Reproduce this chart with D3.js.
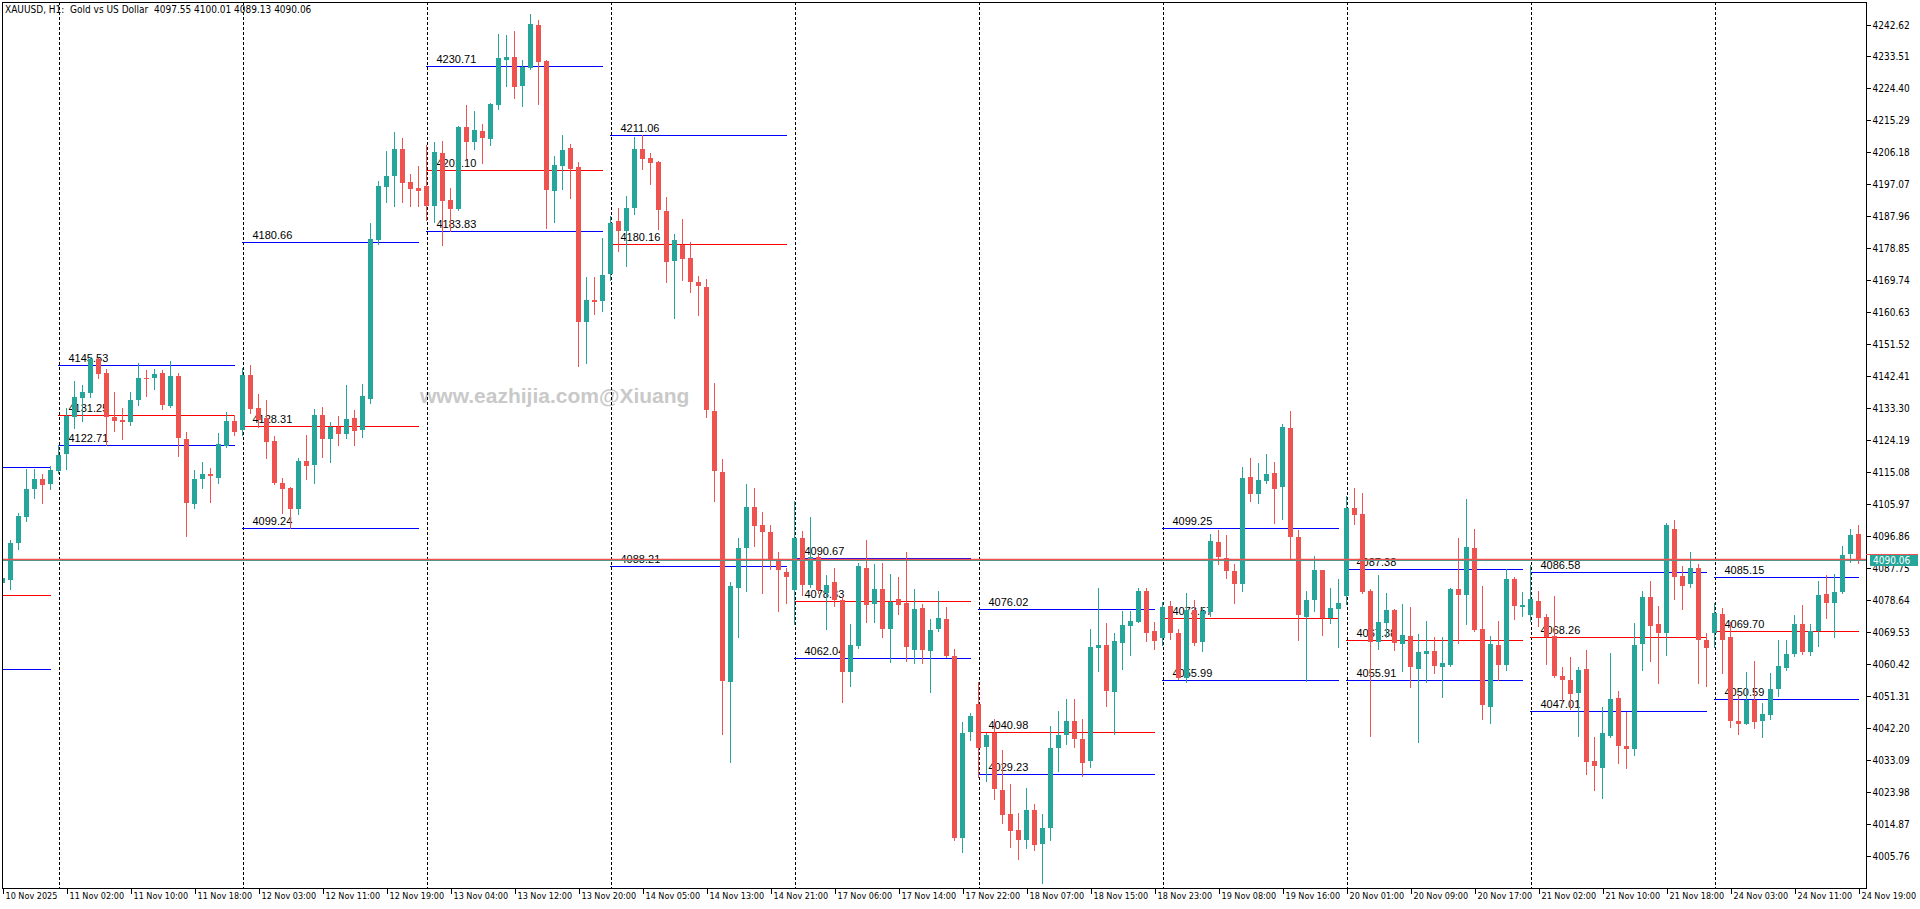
<!DOCTYPE html>
<html><head><meta charset="utf-8">
<script src="https://cdn.jsdelivr.net/npm/d3@7"></script>
<style>html,body{margin:0;padding:0;background:#fff;overflow:hidden}</style>
</head><body><svg id="c" width="1920" height="909"></svg>
<script>
// ---- DATA ----
const headerText = "XAUUSD, H1:  Gold vs US Dollar  4097.55 4100.01 4089.13 4090.06";
const watermark = "www.eazhijia.com@Xiuang";
const currentPrice = 4090.06;
// bar 0 = 10 Nov 2025 17:00, H1 bars
const openP = [4083.5,4084.5,4095.0,4102.4,4110.4,4113.1,4111.8,4115.5,4120.2,4130.9,4136.2,4137.7,4147.2,4143.4,4130.7,4129.9,4129.5,4135.7,4141.9,4142.0,4143.3,4133.9,4142.5,4124.5,4106.1,4113.0,4114.5,4113.5,4122.5,4129.6,
4127.2,4142.8,4133.4,4130.4,4123.9,4112.0,4110.7,4104.6,4118.2,4117.1,4131.4,4124.6,4127.9,4126.0,4130.5,4127.1,4136.0,4181.2,4196.4,4199.5,4207.1,4197.7,4196.0,4196.6,4191.0,4206.0,4192.6,4190.1,4213.5,4209.2,
4212.3,4210.1,4219.8,4232.6,4233.4,4225.2,4230.3,4242.5,4232.2,4195.3,4202.4,4207.4,4202.1,4157.9,4164.1,4163.9,4171.5,4186.7,4183.8,4190.2,4207.1,4204.5,4203.5,4189.6,4175.3,4179.9,4176.0,4169.2,4167.8,4132.5,
4115.1,4055.3,4082.2,4093.6,4105.2,4100.1,4098.1,4090.0,4086.5,4081.4,4096.4,4082.8,4091.0,4080.8,4083.9,4078.7,4058.1,4065.5,4087.9,4077.6,4081.9,4070.5,4079.0,4077.7,4064.5,4076.3,4064.1,4070.5,4073.3,4062.7,
4011.0,4041.1,4049.0,4036.8,4040.8,4024.5,4017.6,4013.1,4010.2,4018.8,4009.1,4013.8,4036.6,4040.2,4044.2,4039.0,4032.7,4065.1,4065.8,4052.4,4066.5,4071.3,4072.5,4081.2,4069.8,4067.9,4076.9,4069.3,4056.5,4075.8,
4066.8,4075.3,4095.3,4090.5,4086.9,4083.1,4113.6,4108.8,4112.6,4114.9,4110.9,4127.6,4096.6,4073.9,4078.8,4087.2,4073.4,4076.1,4079.9,4104.9,4103.2,4081.3,4066.8,4072.2,4075.8,4066.1,4068.4,4059.1,4063.4,4064.2,
4059.6,4060.1,4081.8,4080.2,4093.6,4070.4,4048.2,4065.8,4060.1,4084.6,4076.7,4074.5,4078.3,4073.9,4068.4,4057.0,4055.8,4052.2,4059.0,4032.8,4030.9,4040.0,4050.7,4037.1,4036.2,4066.1,4079.5,4071.8,4069.3,4098.9,
4085.5,4083.2,4087.7,4067.2,4069.3,4074.8,4068.0,4044.2,4043.3,4050.2,4044.2,4045.9,4053.2,4059.3,4063.2,4071.7,4063.8,4069.9,4080.5,4077.9,4081.0,4091.8,4097.55];
const highP = [4086.0,4095.7,4103.5,4116.0,4116.0,4114.5,4116.8,4122.8,4133.5,4141.0,4139.8,4148.0,4147.7,4144.5,4137.9,4133.5,4137.9,4146.2,4144.2,4144.5,4144.2,4146.7,4143.3,4126.5,4115.7,4118.0,4116.2,4126.2,4132.2,4131.3,
4144.8,4145.6,4137.3,4135.6,4125.4,4113.5,4110.9,4119.1,4125.7,4133.1,4133.6,4129.4,4131.1,4139.9,4132.8,4140.2,4186.1,4198.0,4206.6,4212.0,4210.3,4200.1,4202.4,4208.3,4209.1,4209.4,4196.0,4213.8,4219.7,4218.1,
4214.4,4220.3,4240.0,4239.6,4240.8,4232.5,4245.6,4243.9,4232.5,4205.1,4211.1,4208.6,4203.4,4170.7,4170.7,4181.8,4188.2,4190.4,4193.7,4210.5,4211.2,4206.0,4203.8,4193.5,4182.8,4187.2,4180.7,4170.9,4170.2,4140.5,
4118.8,4083.8,4096.4,4111.6,4110.6,4103.8,4100.1,4092.4,4087.9,4107.0,4098.4,4102.4,4091.4,4085.8,4087.9,4079.4,4071.9,4089.3,4095.7,4088.9,4089.3,4086.1,4085.1,4092.2,4081.9,4077.6,4073.3,4081.1,4076.6,4064.8,
4044.0,4046.4,4055.4,4040.8,4044.9,4035.9,4026.2,4018.1,4025.1,4020.5,4017.6,4042.7,4047.0,4050.4,4050.4,4044.9,4070.4,4082.0,4072.2,4069.3,4075.5,4075.6,4082.2,4082.1,4072.3,4078.0,4078.4,4070.3,4080.7,4078.6,
4076.6,4097.4,4098.6,4097.2,4088.9,4116.6,4119.1,4117.8,4120.2,4118.0,4128.8,4132.5,4098.6,4081.2,4091.3,4087.2,4082.2,4084.6,4108.4,4110.6,4109.2,4081.8,4085.8,4080.6,4076.1,4077.5,4076.7,4069.1,4072.7,4068.2,
4068.2,4082.2,4096.4,4107.5,4098.9,4082.7,4068.4,4072.7,4087.4,4085.3,4080.9,4088.6,4081.3,4074.6,4079.9,4059.6,4062.5,4059.6,4064.4,4039.7,4048.2,4063.6,4052.8,4046.8,4072.2,4081.2,4084.0,4076.9,4100.7,4101.4,
4088.3,4092.2,4088.9,4069.3,4077.9,4076.3,4072.3,4051.6,4058.1,4061.3,4049.2,4058.0,4067.4,4067.2,4074.4,4077.2,4071.8,4084.0,4085.9,4086.1,4094.0,4098.9,4100.01];
const lowP = [4082.0,4081.9,4093.3,4101.2,4107.8,4106.4,4110.3,4114.9,4116.1,4127.7,4129.7,4136.6,4142.0,4122.8,4126.9,4124.6,4128.6,4134.3,4136.9,4138.8,4133.1,4133.6,4119.8,4097.0,4105.0,4110.6,4106.7,4112.1,4122.2,4125.7,
4125.6,4131.8,4128.0,4119.0,4111.7,4103.5,4099.2,4103.2,4113.2,4112.1,4119.5,4118.1,4122.8,4124.9,4122.8,4125.2,4134.7,4180.1,4192.1,4191.0,4192.1,4191.0,4191.0,4186.9,4186.4,4179.9,4183.7,4189.9,4204.6,4207.1,
4203.1,4208.3,4218.6,4225.2,4221.8,4219.5,4230.0,4220.1,4184.7,4186.4,4195.8,4193.3,4145.4,4146.3,4160.2,4161.1,4169.7,4178.0,4173.9,4188.5,4201.5,4197.3,4184.3,4169.4,4159.0,4169.9,4166.5,4159.9,4130.8,4107.0,
4040.4,4032.4,4068.1,4081.3,4094.0,4080.8,4087.5,4075.4,4077.7,4071.9,4080.1,4082.5,4080.8,4070.5,4076.9,4049.6,4054.3,4064.9,4072.3,4072.3,4068.1,4061.0,4074.7,4061.3,4060.6,4060.6,4052.5,4069.8,4062.4,4010.4,
4006.9,4038.7,4028.3,4027.1,4022.0,4015.2,4008.3,4004.8,4008.0,4007.4,3998.1,4010.2,4029.9,4037.5,4036.8,4028.5,4031.1,4058.4,4048.5,4040.6,4059.1,4063.0,4072.3,4067.0,4064.7,4065.8,4067.6,4056.3,4055.4,4065.8,
4064.2,4074.1,4088.9,4084.8,4077.9,4081.2,4106.8,4106.4,4112.1,4100.7,4101.7,4090.2,4067.2,4055.6,4075.5,4068.7,4072.2,4065.3,4077.5,4100.3,4080.8,4040.0,4064.8,4068.2,4064.4,4058.5,4053.9,4038.3,4055.4,4058.0,
4051.1,4059.8,4066.5,4071.9,4069.9,4044.7,4043.7,4056.0,4058.7,4073.2,4074.2,4072.7,4071.3,4060.4,4056.6,4049.5,4047.5,4040.0,4029.0,4024.5,4022.3,4039.7,4032.3,4030.9,4034.6,4058.7,4061.3,4055.1,4062.9,4078.9,
4076.1,4082.4,4055.1,4054.1,4065.3,4057.9,4042.5,4040.4,4043.3,4042.1,4039.7,4044.9,4051.3,4058.7,4062.8,4063.4,4062.9,4065.6,4073.6,4068.2,4080.8,4089.6,4089.13];
const closeP = [4085.0,4094.8,4102.6,4110.3,4113.1,4111.4,4115.7,4119.9,4131.2,4136.6,4137.9,4147.4,4143.1,4130.9,4129.7,4129.5,4135.6,4141.9,4141.6,4143.0,4134.2,4142.5,4124.9,4106.4,4113.1,4114.5,4114.1,4123.1,4129.6,4126.4,
4142.8,4133.0,4129.9,4123.8,4111.9,4110.4,4104.6,4118.2,4116.9,4131.4,4124.6,4127.9,4126.0,4130.2,4126.9,4136.8,4181.5,4196.6,4199.4,4207.1,4197.5,4195.8,4195.3,4191.0,4206.3,4192.3,4190.1,4213.5,4209.2,4212.5,
4210.4,4220.1,4233.1,4233.4,4224.9,4230.6,4242.8,4232.0,4195.4,4202.6,4206.9,4201.5,4157.9,4164.1,4163.6,4171.2,4186.1,4183.8,4190.4,4207.1,4204.4,4203.3,4189.9,4175.1,4181.1,4175.9,4169.4,4168.0,4132.7,4115.5,
4055.7,4082.7,4093.6,4105.2,4099.7,4098.1,4090.0,4087.2,4085.1,4096.4,4082.8,4091.0,4081.4,4082.9,4078.7,4058.1,4065.9,4088.3,4077.3,4081.9,4070.5,4078.0,4077.3,4065.2,4076.1,4064.5,4070.2,4073.5,4062.7,4011.0,
4040.9,4045.7,4036.6,4040.2,4024.9,4017.4,4012.9,4010.2,4018.8,4008.8,4013.6,4036.6,4040.2,4044.2,4039.2,4032.1,4065.3,4065.8,4052.7,4067.0,4071.5,4072.7,4081.2,4069.3,4067.0,4076.6,4069.3,4056.5,4075.8,4066.5,
4075.5,4095.4,4091.0,4087.0,4083.2,4113.4,4108.8,4112.8,4114.6,4110.3,4128.0,4096.5,4074.4,4078.8,4087.2,4073.4,4076.3,4077.9,4104.9,4103.0,4081.0,4066.8,4072.3,4075.8,4066.5,4068.7,4059.6,4063.8,4064.2,4059.9,
4060.8,4081.9,4080.2,4093.7,4070.2,4048.7,4066.1,4060.1,4084.6,4077.0,4077.2,4078.9,4073.6,4068.2,4057.0,4055.8,4052.0,4058.7,4032.6,4031.4,4040.9,4050.4,4037.1,4036.2,4065.8,4079.5,4071.3,4069.4,4100.0,4085.3,
4082.7,4087.7,4067.4,4065.1,4075.1,4067.4,4044.2,4043.3,4050.2,4044.0,4046.3,4053.2,4060.0,4063.4,4071.7,4063.8,4069.9,4080.2,4077.7,4081.0,4091.6,4097.1,4090.06];

// Day separators (bar index of first H1 bar of each day) and daily level lines
const dayStartIdx = [-16, 7, 30, 53, 76, 99, 122, 145, 168, 191, 214];
const levelHigh = [4116.55, 4145.53, 4180.66, 4230.71, 4211.06, 4090.67, 4076.02, 4099.25, 4087.38, 4086.58, 4085.15];
const levelMid  = [4080.00, 4131.25, 4128.31, 4201.10, 4180.16, 4078.33, 4040.98, 4073.57, 4067.38, 4068.26, 4069.70];
const levelLow  = [4058.90, 4122.71, 4099.24, 4183.83, 4088.21, 4062.04, 4029.23, 4055.99, 4055.91, 4047.01, 4050.59];

const xTickLabels = ["10 Nov 2025","11 Nov 02:00","11 Nov 10:00","11 Nov 18:00","12 Nov 03:00","12 Nov 11:00","12 Nov 19:00","13 Nov 04:00","13 Nov 12:00","13 Nov 20:00","14 Nov 05:00","14 Nov 13:00","14 Nov 21:00","17 Nov 06:00","17 Nov 14:00","17 Nov 22:00","18 Nov 07:00","18 Nov 15:00","18 Nov 23:00","19 Nov 08:00","19 Nov 16:00","20 Nov 01:00","20 Nov 09:00","20 Nov 17:00","21 Nov 02:00","21 Nov 10:00","21 Nov 18:00","24 Nov 03:00","24 Nov 11:00","24 Nov 19:00"];
const xTickIdx = [0,8,16,24,32,40,48,56,64,72,80,88,96,104,112,120,128,136,144,152,160,168,176,184,192,200,208,216,224,232];
const yTickValues = [4242.62,4233.51,4224.40,4215.29,4206.18,4197.07,4187.96,4178.85,4169.74,4160.63,4151.52,4142.41,4133.30,4124.19,4115.08,4105.97,4096.86,4087.75,4078.64,4069.53,4060.42,4051.31,4042.20,4033.09,4023.98,4014.87,4005.76];

// ---- LAYOUT ----
const UP = "#26a69a", DN = "#ef5350";
const plot = {l: 2, t: 2, r: 1866, b: 888};
const axisFont = '"DejaVu Sans Condensed","DejaVu Sans",sans-serif';
const svg = d3.select("#c");
const x = d3.scaleLinear().domain([0, 232]).range([2.5, 1858.5]);
const y = d3.scaleLinear().domain([4005.76, 4242.62]).range([855.9, 24.5]);
const py = v => Math.round(y(v)) + 0.5;

svg.append("defs").append("clipPath").attr("id","pc")
  .append("rect").attr("x", plot.l+1).attr("y", plot.t+1).attr("width", plot.r-plot.l-1).attr("height", plot.b-plot.t-1);

const g = svg.append("g").attr("clip-path","url(#pc)");

// watermark
g.append("text").attr("x", 420).attr("y", 403).text(watermark)
  .attr("font-family",'"Liberation Sans",Arial,sans-serif').attr("font-weight","bold")
  .attr("font-size", 21).attr("fill", "#c9c9c9");

// day separators
g.selectAll("line.sep").data(dayStartIdx.slice(1)).join("line").attr("class","sep")
  .attr("x1", d => Math.round(x(d)) + 0.5).attr("x2", d => Math.round(x(d)) + 0.5)
  .attr("y1", plot.t).attr("y2", plot.b)
  .attr("stroke","#000").attr("stroke-width",1).attr("stroke-dasharray","3,2");

// level lines
const levels = [];
dayStartIdx.forEach((s, k) => {
  const e = Math.min(s + 22, 232);
  [[levelHigh[k], "#0000ff"], [levelMid[k], "#ff0000"], [levelLow[k], "#0000ff"]].forEach(([v, c]) =>
    levels.push({s, e, v, c}));
});
g.selectAll("line.lvl").data(levels).join("line").attr("class","lvl")
  .attr("x1", d => x(d.s) - 0.5).attr("x2", d => x(d.e) + 0.5)
  .attr("y1", d => py(d.v)).attr("y2", d => py(d.v))
  .attr("stroke", d => d.c).attr("stroke-width", 1).attr("shape-rendering","crispEdges");
g.selectAll("text.lvl").data(levels.filter(d => x(d.s) > plot.l)).join("text").attr("class","lvl")
  .attr("x", d => x(d.s) + 10).attr("y", d => py(d.v) - 3.5)
  .text(d => d.v.toFixed(2))
  .attr("font-family",'"Liberation Sans",Arial,sans-serif').attr("font-size", 11).attr("fill","#000");

// candles
const bars = openP.map((o, i) => ({i, o, h: highP[i], l: lowP[i], c: closeP[i]}));
const cg = g.append("g").attr("shape-rendering","crispEdges");
cg.selectAll("line.wick").data(bars).join("line").attr("class","wick")
  .attr("x1", d => x(d.i)).attr("x2", d => x(d.i))
  .attr("y1", d => Math.round(y(d.h))).attr("y2", d => Math.round(y(d.l)) + 1)
  .attr("stroke", d => d.c >= d.o ? UP : DN).attr("stroke-width", 1);
cg.selectAll("rect.body").data(bars).join("rect").attr("class","body")
  .attr("x", d => x(d.i) - 2.5).attr("width", 5)
  .attr("y", d => Math.round(y(Math.max(d.o, d.c))))
  .attr("height", d => Math.max(1, Math.round(y(Math.min(d.o, d.c))) - Math.round(y(Math.max(d.o, d.c)))))
  .attr("fill", d => d.c >= d.o ? UP : DN);

// current price lines (ask red above, bid teal)
const cy = Math.round(y(currentPrice));
g.append("line").attr("x1", plot.l).attr("x2", plot.r).attr("y1", cy + 0.5).attr("y2", cy + 0.5)
  .attr("stroke", UP).attr("stroke-width", 1);
g.append("line").attr("x1", plot.l).attr("x2", plot.r).attr("y1", cy - 0.5).attr("y2", cy - 0.5)
  .attr("stroke", DN).attr("stroke-width", 1.4);

// frame
svg.append("rect").attr("x", plot.l + 0.5).attr("y", plot.t + 0.5)
  .attr("width", plot.r - plot.l).attr("height", plot.b - plot.t)
  .attr("fill","none").attr("stroke","#000").attr("stroke-width",1).attr("shape-rendering","crispEdges");

// right axis
const yAxis = d3.axisRight(y).tickValues(yTickValues).tickFormat(d3.format(".2f")).tickSize(4).tickPadding(2);
const ya = svg.append("g").attr("transform", `translate(${plot.r + 0.5},0)`).call(yAxis);
ya.select(".domain").remove();
ya.selectAll(".tick").attr("transform", d => `translate(0,${py(d)})`);
ya.selectAll("text").attr("font-family", axisFont).attr("font-size", 10).attr("fill","#000");
ya.selectAll("line").attr("stroke","#000").attr("shape-rendering","crispEdges");

// current price label
const pl = svg.append("g");
pl.append("rect").attr("x", plot.r + 4).attr("y", cy - 6).attr("width", 1920 - plot.r - 6).attr("height", 12).attr("fill", UP);
pl.append("line").attr("x1", plot.r).attr("x2", 1918).attr("y1", cy - 5.5).attr("y2", cy - 5.5).attr("stroke", DN);
pl.append("text").attr("x", plot.r + 7).attr("y", cy + 4).text(currentPrice.toFixed(2))
  .attr("font-family", axisFont).attr("font-size", 10).attr("fill","#fff");

// bottom axis
const xAxis = d3.axisBottom(x).tickValues(xTickIdx).tickFormat((d, k) => xTickLabels[k]).tickSize(5).tickPadding(0);
const xa = svg.append("g").attr("transform", `translate(0,${plot.b + 0.5})`).call(xAxis);
xa.select(".domain").remove();
xa.selectAll(".tick").attr("transform", d => `translate(${Math.round(x(d)) + 0.5},0)`);
xa.selectAll("text").attr("text-anchor","start").attr("x", 2).attr("y", 4).attr("dy","0.71em")
  .attr("font-family", axisFont).attr("font-size", 9).attr("fill","#000");
xa.selectAll("line").attr("stroke","#000").attr("shape-rendering","crispEdges");

// header
svg.append("text").attr("x", 5).attr("y", 13).text(headerText).style("white-space","pre")
  .attr("font-family", axisFont).attr("font-size", 10).attr("fill","#000");
</script></body></html>
